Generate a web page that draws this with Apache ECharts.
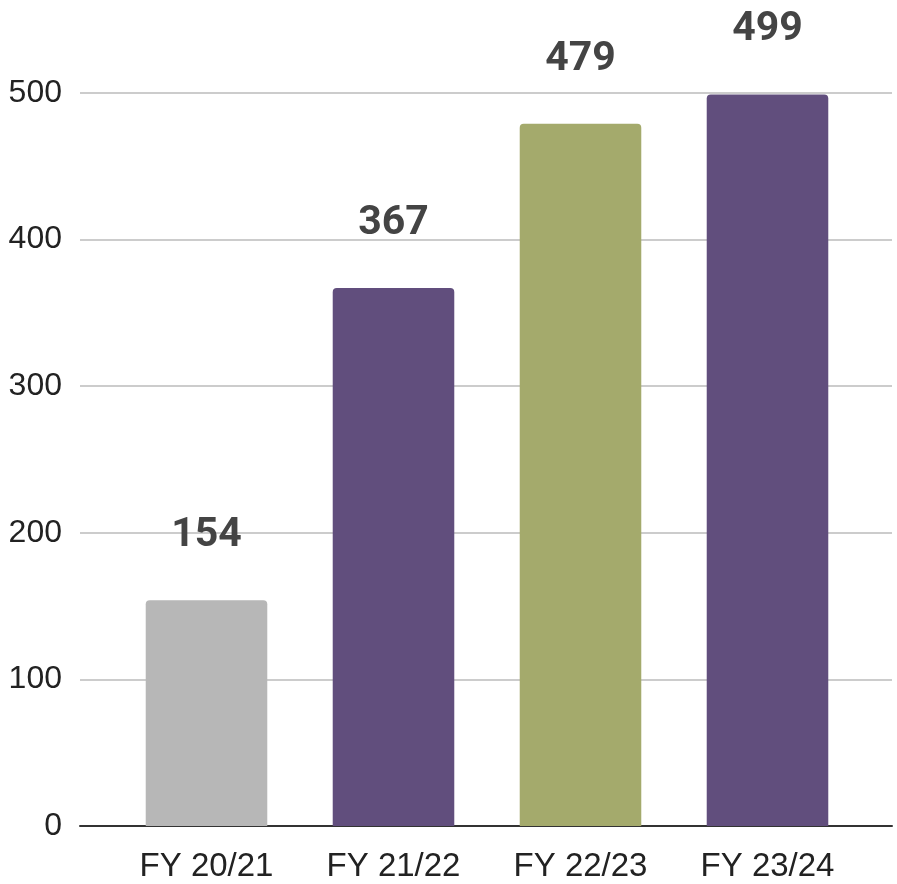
<!DOCTYPE html>
<html><head><meta charset="utf-8">
<script src="https://cdn.jsdelivr.net/npm/echarts@6/dist/echarts.min.js"></script>
<style>html,body{margin:0;padding:0;background:#fff}#c{width:897px;height:884px}</style>
</head><body><div id="c"></div>
<script>
const categories = ['FY 20/21', 'FY 21/22', 'FY 22/23', 'FY 23/24'];
const values = [154, 367, 479, 499];
const barColors = ['#b7b7b7', '#614e7d', '#a4aa6c', '#614e7d'];
const yTicks = [0, 100, 200, 300, 400, 500];

const yMin = yTicks[0], yMax = yTicks[yTicks.length - 1];
const chart = echarts.init(document.getElementById('c'));
chart.setOption({
  animation: false,
  grid: [
    {left: 80, right: 5, top: 93, bottom: 58},
    {left: 113, right: 36, top: 93, bottom: 58}
  ],
  xAxis: [
    {
      gridIndex: 0, type: 'category', data: categories,
      axisLine: {lineStyle: {color: '#333', width: 2}},
      axisTick: {show: false}, axisLabel: {show: false}
    },
    {
      gridIndex: 1, type: 'category', data: categories,
      axisLine: {show: false}, axisTick: {show: false},
      axisLabel: {fontFamily: 'Liberation Sans', fontSize: 33, color: '#222', margin: 24}
    }
  ],
  yAxis: [
    {
      gridIndex: 0, type: 'value', min: yMin, max: yMax, interval: 100,
      axisLine: {show: false}, axisTick: {show: false},
      splitLine: {lineStyle: {color: '#ccc', width: 2}},
      axisLabel: {fontFamily: 'Liberation Sans', fontSize: 32, color: '#222', margin: 18}
    },
    {
      gridIndex: 1, type: 'value', min: yMin, max: yMax, interval: 100,
      show: false, splitLine: {show: false}
    }
  ],
  series: [{
    type: 'bar', xAxisIndex: 1, yAxisIndex: 1, barWidth: '65%', clip: false,
    data: values.map((v, i) => ({value: v, itemStyle: {color: barColors[i], borderRadius: [4, 4, 0, 0]}})),
    label: {show: true, position: 'top', distance: 44, fontFamily: 'Roboto', fontWeight: 'bold', fontSize: 41, color: '#444'}
  }]
});
</script></body></html>
